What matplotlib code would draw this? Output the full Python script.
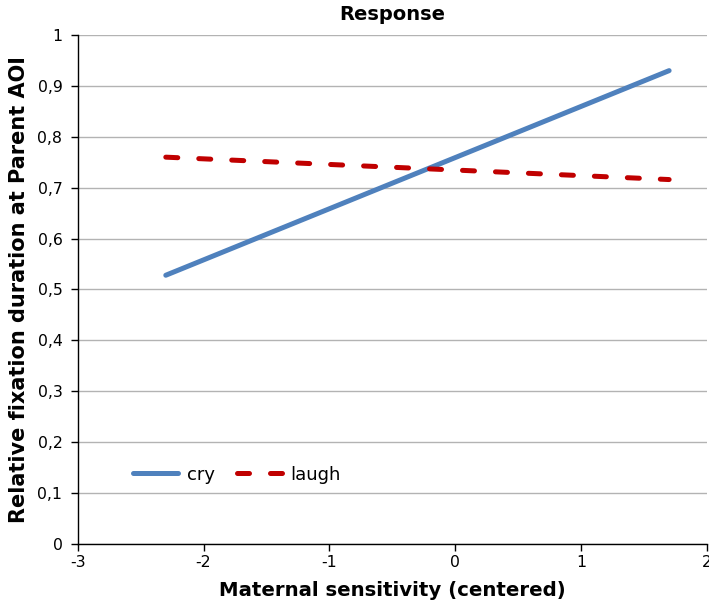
import matplotlib
matplotlib.use("Agg")
import matplotlib.pyplot as plt
import numpy as np

# sensibilidade materna (centrada) nos extremos das retas
x_vals = [-2.3, 1.7]
cry_vals = [0.528, 0.930]
laugh_vals = [0.760, 0.716]

x_ticks = [-3, -2, -1, 0, 1, 2]
y_ticks = [0, 0.1, 0.2, 0.3, 0.4, 0.5, 0.6, 0.7, 0.8, 0.9, 1.0]

plt.rcParams['font.family'] = ['DejaVu Sans']

fig = plt.figure(figsize=(7.09, 6.11), dpi=100)
ax = fig.add_axes([0.1096, 0.1097, 0.8874, 0.833])

ax.plot(x_vals, cry_vals, color='#4f81bd', lw=3.6, solid_capstyle='round', label='cry')
ax.plot(x_vals, laugh_vals, color='#c00000', lw=3.6, dash_capstyle='round',
        linestyle=(0, (2.4, 4.2)), label='laugh')

ax.set_xlim(-3, 2)
ax.set_ylim(0, 1)
ax.set_xticks(x_ticks)
ax.set_xticklabels([str(t) for t in x_ticks])
ax.set_yticks(y_ticks)
ax.set_yticklabels([('%g' % t).replace('.', ',') for t in y_ticks])
ax.tick_params(axis='both', labelsize=11.3, direction='out', length=5, width=1, color='black')
ax.tick_params(axis='y', pad=6)
ax.tick_params(axis='x', pad=3)

ax.grid(True, axis='y', color='#b3b3b3', lw=1)
ax.set_axisbelow(True)
for s in ['top', 'right']:
    ax.spines[s].set_visible(False)
for s in ['left', 'bottom']:
    ax.spines[s].set_color('black')
    ax.spines[s].set_linewidth(1)

ax.set_title('Response', fontsize=14, fontweight='bold', pad=11)
ax.set_xlabel('Maternal sensitivity (centered)', fontsize=14.2, fontweight='bold', labelpad=8)
ax.set_ylabel('Relative fixation duration at Parent AOI', fontsize=15, fontweight='bold', labelpad=6)

ax.legend(loc='center', bbox_to_anchor=(0.253, 0.136), ncol=2, frameon=False,
          fontsize=13, handlelength=2.5, columnspacing=1.2, handletextpad=0.5)

plt.savefig('out.png', dpi=100)
